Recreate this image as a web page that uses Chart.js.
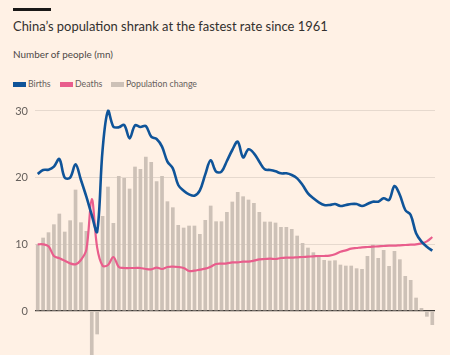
<!DOCTYPE html>
<html>
<head>
<meta charset="utf-8">
<script src="https://cdn.jsdelivr.net/npm/chart.js@4"></script>
<style>
  html, body { margin: 0; padding: 0; background: #fff1e5; }
  body { width: 450px; height: 355px; position: relative; overflow: hidden; font-family: Lato, "Open Sans", sans-serif; }
  #bar { position: absolute; left: 13px; top: 8px; width: 38px; height: 3px; background: #1a1817; }
  #title { position: absolute; left: 13px; top: 16px; font-size: 16px; color: #33302e; white-space: nowrap; line-height: 20px; }
  #sub { position: absolute; left: 13px; top: 47px; font-size: 12px; color: #4d4845; white-space: nowrap; line-height: 14px; }
  #legend { position: absolute; left: 13px; top: 77px; font-size: 10px; color: #66605c; white-space: nowrap; line-height: 14px; }
  #legend span.item { position: absolute; top: 0; }
  #legend i { position: absolute; top: 5px; width: 13px; height: 5px; }
  #legend b { font-weight: normal; position: absolute; left: 15px; top: 0; }
  #wrap { position: absolute; left: 0; top: 95px; width: 450px; height: 260px; }
</style>
</head>
<body>
<div id="bar"></div>
<div id="title">China’s population shrank at the fastest rate since 1961</div>
<div id="sub">Number of people (mn)</div>
<div id="legend"></div>
<div id="wrap"><canvas id="c" width="450" height="260"></canvas></div>
<script>
const years = [];
for (let y = 1950; y <= 2023; y++) years.push(String(y));

const births = [
  20.55, 21.15, 21.2, 21.65, 22.8, 20.0, 20.0, 22.0, 19.65, 17.15,
  14.4, 11.9, 24.15, 30.0, 27.65, 27.55, 27.9, 25.9, 27.85, 27.6,
  27.75, 26.15, 25.8, 24.65, 22.4, 21.4, 18.9, 18.05, 17.5, 17.3,
  18.1, 20.5, 22.6, 20.9, 20.9, 22.5, 24.15, 25.4, 23.05, 24.25,
  23.65, 22.4, 21.25, 21.15, 20.95, 20.65, 20.65, 20.4, 19.9, 18.9,
  17.65, 16.9, 16.3, 15.9, 15.9, 16.05, 15.75, 15.9, 16.05, 16.05,
  15.75, 16.05, 16.4, 16.4, 16.9, 16.65, 18.75, 17.4, 15.15, 14.4,
  11.65, 10.4, 9.65, 9.05
];

const deaths = [
  10.0, 10.0, 9.7, 8.25, 7.9, 7.55, 7.15, 7.0, 7.65, 9.2,
  16.8, 9.5, 6.8, 6.9, 8.1, 6.6, 6.45, 6.45, 6.45, 6.45,
  6.3, 6.25, 6.5, 6.3, 6.6, 6.65, 6.6, 6.45, 6.0, 6.05,
  6.2, 6.35, 6.65, 7.05, 7.1, 7.15, 7.3, 7.3, 7.4, 7.4,
  7.55, 7.75, 7.8, 7.85, 7.8, 7.95, 8.0, 8.0, 8.05, 8.1,
  8.15, 8.2, 8.25, 8.25, 8.3, 8.5, 8.9, 9.1, 9.35, 9.45,
  9.55, 9.6, 9.65, 9.7, 9.75, 9.8, 9.8, 9.85, 9.9, 9.95,
  10.0, 10.15, 10.45, 11.1
];

const popChange = [
  10.0, 11.0, 11.8, 13.0, 14.6, 11.9, 13.6, 18.2, 13.3, 12.0,
  -10.0, -3.5, 14.25, 18.65, 13.2, 20.25, 19.95, 18.35, 21.65, 21.3,
  23.15, 22.35, 19.45, 20.25, 16.45, 15.55, 12.9, 12.5, 12.8, 12.8,
  11.55, 13.65, 15.8, 13.45, 13.45, 14.85, 16.4, 17.85, 17.2, 16.7,
  16.2, 14.85, 13.4, 13.4, 13.25, 12.6, 12.6, 12.3, 11.3, 10.2,
  9.5, 8.8, 8.3, 7.65, 7.55, 7.6, 6.95, 6.8, 6.8, 6.4,
  6.3, 8.25, 9.95, 7.95, 9.15, 6.75, 9.0, 7.75, 5.25, 4.65,
  2.0, 0.45, -0.85, -2.1
];

const yTicks = [0, 10, 20, 30];
const seriesNames = ['Births', 'Deaths', 'Population change'];
const colors = ['#0f5499', '#e95d8c', '#cdc1b7'];

// legend (HTML text)
const legend = document.getElementById('legend');
const legendX = [0, 47, 98];
const texts = [];
seriesNames.forEach((n, k) => {
  const s = document.createElement('span');
  s.className = 'item';
  s.style.left = legendX[k] + 'px';
  const sw = document.createElement('i');
  sw.style.background = colors[k];
  const t = document.createElement('b');
  t.textContent = n;
  s.appendChild(sw); s.appendChild(t);
  legend.appendChild(s);
  texts.push(t);
});

// fit text widths to the reference
(function(){
  const el = document.getElementById('title');
  const w = el.getBoundingClientRect().width;
  el.style.fontSize = (16 * 315 / w).toFixed(2) + 'px';
  const sub = document.getElementById('sub');
  const ws = sub.getBoundingClientRect().width;
  sub.style.fontSize = (12 * 100 / ws).toFixed(2) + 'px';
  const wl = texts[2].getBoundingClientRect().width;
  legend.style.fontSize = (10 * 71 / wl).toFixed(2) + 'px';
})();

new Chart(document.getElementById('c'), {
  data: {
    labels: years,
    datasets: [
      { type: 'line', label: seriesNames[0], data: births, borderColor: colors[0], borderWidth: 2.6,
        pointRadius: 0, tension: 0.35, fill: false },
      { type: 'line', label: seriesNames[1], data: deaths, borderColor: colors[1], borderWidth: 2.2,
        pointRadius: 0, tension: 0.35, fill: false },
      { type: 'bar', label: seriesNames[2], data: popChange, backgroundColor: colors[2],
        categoryPercentage: 1, barPercentage: 0.68 }
    ]
  },
  options: {
    responsive: false,
    animation: false,
    layout: { autoPadding: false, padding: { top: 5, right: 15, left: 0, bottom: 0 } },
    plugins: { legend: { display: false }, tooltip: { enabled: false } },
    scales: {
      x: { display: false, offset: true },
      y: {
        min: -6.6, max: 31.65,
        afterFit: s => { s.width = 35; s.paddingTop = 0; s.paddingBottom = 0; },
        afterBuildTicks: s => { s.ticks = yTicks.map(v => ({ value: v })); },
        border: { display: false },
        grid: {
          drawTicks: false,
          color: c => (c.tick && c.tick.value === 0) ? '#3d3935' : '#e6d9ce',
          lineWidth: c => (c.tick && c.tick.value === 0) ? 1.2 : 1
        },
        ticks: { padding: 7, color: '#66605c', font: { family: 'Lato', size: 11 } }
      }
    }
  }
});
</script>
</body>
</html>
